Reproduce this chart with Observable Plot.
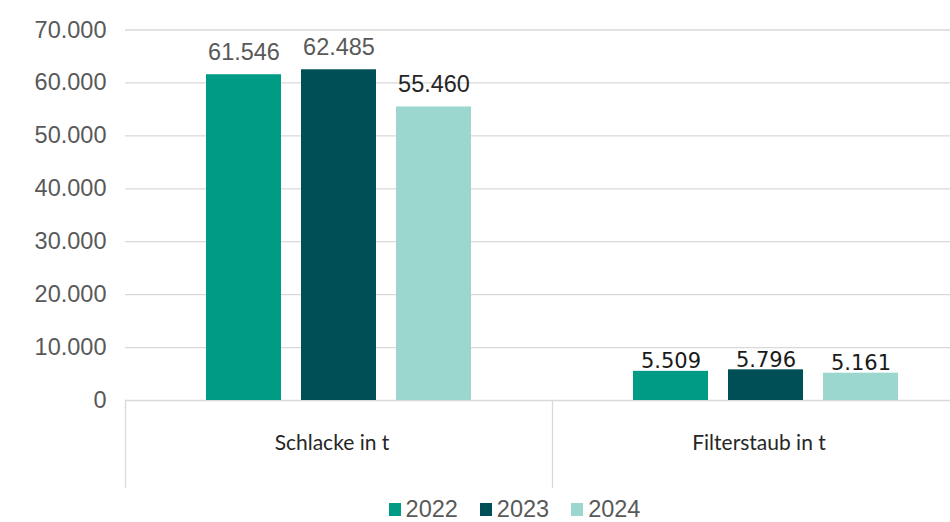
<!DOCTYPE html>
<html>
<head>
<meta charset="utf-8">
<script src="https://cdn.jsdelivr.net/npm/d3@7"></script>
<script src="https://cdn.jsdelivr.net/npm/@observablehq/plot@0.6"></script>
<style>
  html, body { margin: 0; padding: 0; background: #fff; overflow: hidden; width: 950px; height: 522px; }
  #chart svg { display: block; }
  #legend { display: flex; justify-content: center; padding-left: 101px; margin-top: 3px; }
  #legend [class$="-swatch"] { margin-right: 22px !important; }
  #legend [class$="-swatch"] > svg { margin-right: 5px !important; }
</style>
</head>
<body>
<div id="chart"></div>
<div id="legend"></div>
<script>
const categories = ["Schlacke in t", "Filterstaub in t"];
const years = ["2022", "2023", "2024"];
const values2022 = [61546, 5509];
const values2023 = [62485, 5796];
const values2024 = [55460, 5161];
const yTicks = [0, 10000, 20000, 30000, 40000, 50000, 60000, 70000];
const colors = ["#009B85", "#004F56", "#9BD7CE"];

const series = [values2022, values2023, values2024];
const data = categories.flatMap((c, i) => years.map((y, j) => ({category: c, year: y, value: series[j][i]})));

const fmt = d3.formatLocale({decimal: ",", thousands: ".", grouping: [3], currency: ["", "€"]}).format(",d");
const arial = "Liberation Sans, Arial, sans-serif";

const chart = Plot.plot({
  width: 950,
  height: 490,
  marginLeft: 125,
  marginRight: -29,
  marginTop: 29.5,
  marginBottom: 90,
  style: {fontFamily: arial, background: "white"},
  fx: {domain: categories, padding: 0, label: null},
  x: {domain: years, paddingInner: 0.21, paddingOuter: 0.85, axis: null},
  y: {domain: [0, 70000], label: null},
  color: {domain: years, range: colors},
  marks: [
    Plot.gridY(yTicks, {stroke: "#d9d9d9", strokeOpacity: 1, strokeWidth: 1.3}),
    Plot.axisY(yTicks, {tickSize: 0, tickPadding: 19, tickFormat: fmt, fontSize: 23.5, fill: "#595959", label: null}),
    Plot.frame({anchor: "left", stroke: "#d9d9d9", strokeWidth: 1.3, insetTop: 370.5, insetBottom: -87}),
    Plot.barY(data, {fx: "category", x: "year", y: "value", fill: "year"}),
    Plot.text(data, {filter: d => d.category === categories[0] && d.year !== "2024", fx: "category", x: "year", y: "value",
      text: d => fmt(d.value), lineAnchor: "bottom", dy: -15, fontSize: 23.5, fill: "#595959"}),
    Plot.text(data, {filter: d => d.category === categories[0] && d.year === "2024", fx: "category", x: "year", y: "value",
      text: d => fmt(d.value), lineAnchor: "bottom", dy: -15, fontSize: 23.5, fill: "#262626"}),
    Plot.text(data, {filter: d => d.category === categories[1], fx: "category", x: "year", y: "value",
      text: d => fmt(d.value), lineAnchor: "bottom", dy: -3, fontSize: 21, fontFamily: "DejaVu Sans", fill: "#1a1a1a"}),
    Plot.axisFx({anchor: "bottom", tickSize: 0, tickPadding: 35, fontSize: 21, fontFamily: "Lato", fill: "#262626", label: null, dx: -7})
  ]
});
document.getElementById("chart").appendChild(chart);

const legend = chart.legend("color", {
  swatchWidth: 12, swatchHeight: 13,
  style: {fontSize: "23.5px", fontFamily: arial, color: "#595959"}
});
document.getElementById("legend").appendChild(legend);
</script>
</body>
</html>
